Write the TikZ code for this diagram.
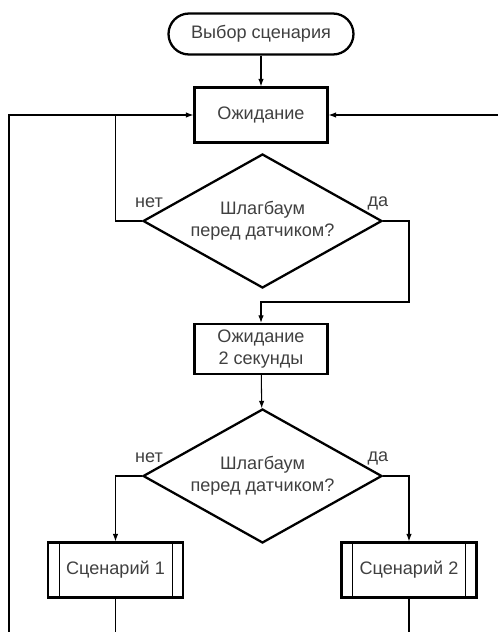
\documentclass[tikz,border=0pt]{standalone}
\usepackage{fontspec}
\setmainfont{Liberation Sans}
\usetikzlibrary{shapes.geometric}
\usetikzlibrary{arrows.meta}

\begin{document}
\begin{tikzpicture}[x=0.02cm,y=-0.02cm,
  txt/.style={text=black!75,font=\fontsize{10.3}{12.5}\selectfont,align=center},
  termbox/.style={txt,draw,line width=1.3pt,rectangle,rounded corners=0.41cm,minimum width=3.7cm,minimum height=0.82cm},
  procbox/.style={txt,draw,line width=1.3pt,rectangle,minimum width=2.66cm,minimum height=1.1cm},
  decbox/.style={txt,draw,line width=1.3pt,diamond,aspect=1.78,minimum width=4.78cm,minimum height=2.68cm,inner sep=0pt},
  subbox/.style={procbox,minimum width=2.7cm,
    path picture={\draw[line width=0.5pt]
      ([xshift=0.22cm]path picture bounding box.north west) -- ([xshift=0.22cm]path picture bounding box.south west)
      ([xshift=-0.22cm]path picture bounding box.north east) -- ([xshift=-0.22cm]path picture bounding box.south east);}},
  lbl/.style={txt},
  arr/.style={line width=0.6pt,-{Latex[length=1.5mm,width=1.1mm]}},
  con/.style={line width=0.6pt}]
\useasboundingbox (0,0) rectangle (498,632);

\node[termbox] (start) at (261,34) {Выбор сценария};
\node[procbox] (wait1) at (261,115) {Ожидание};
\node[decbox] (d1) at (262.5,221) {Шлагбаум\\перед датчиком?};
\node[procbox,minimum height=0.92cm] (wait2) at (261,349) {Ожидание\\2 секунды};
\node[decbox] (d2) at (262.5,476) {Шлагбаум\\перед датчиком?};
\node[subbox] (sc1) at (115.5,570) {Сценарий 1};
\node[subbox] (sc2) at (409,570) {Сценарий 2};

\node[lbl] (no1) at (149,203) {нет};
\node[lbl] (yes1) at (378,203) {да};
\node[lbl] (no2) at (149,458) {нет};
\node[lbl] (yes2) at (378,458) {да};

\coordinate (lbot) at (9,632);
\coordinate (rin) at (498,115);
\coordinate (j1) at (115.5,115);
\coordinate (k1) at (409,302);
\coordinate (s1bot) at (115.5,632);
\coordinate (s2bot) at (409,632);

\draw[arr] (start) -- (wait1);
\draw[arr] (lbot) |- (wait1.west);
\draw[arr] (rin) -- (wait1.east);
\draw[con] (d1.west) -| (j1);
\draw[arr] (d1.east) -| (k1) -| (wait2.north);
\draw[arr] (wait2) -- (d2);
\draw[arr] (d2.west) -| (sc1.north);
\draw[arr] (d2.east) -| (sc2.north);
\draw[con] (sc1.south) -- (s1bot);
\draw[con] (sc2.south) -- (s2bot);
\end{tikzpicture}
\end{document}
